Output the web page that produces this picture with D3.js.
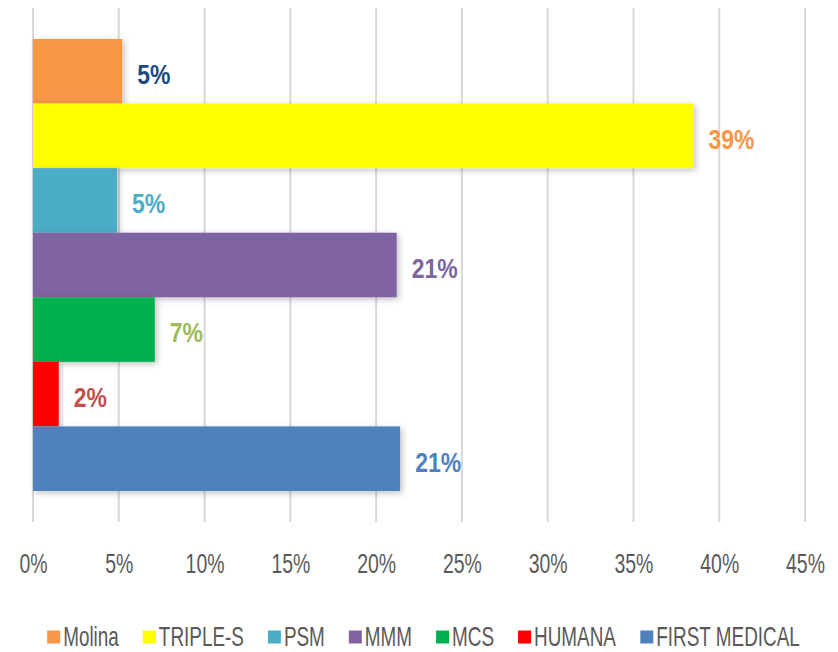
<!DOCTYPE html>
<html>
<head>
<meta charset="utf-8">
<script src="https://cdn.jsdelivr.net/npm/d3@7"></script>
<style>
  body { margin: 0; background: #fff; }
  svg text { font-family: "Liberation Sans Narrow", "Arial Narrow", "Liberation Sans", sans-serif; }
</style>
</head>
<body>
<div id="chart"></div>
<script>
// plans, top to bottom
const plans = ["Molina", "TRIPLE-S", "PSM", "MMM", "MCS", "HUMANA", "FIRST MEDICAL"];
const shares = [5.2, 38.5, 4.9, 21.2, 7.1, 1.5, 21.4];
const barColors = ["#F79646", "#FFFF00", "#4BACC6", "#8064A2", "#00B050", "#FF0000", "#4F81BD"];
const labelColors = ["#1F497D", "#F79646", "#4BACC6", "#8064A2", "#9BBB59", "#C0504D", "#4F81BD"];
const ticks = [0, 5, 10, 15, 20, 25, 30, 35, 40, 45];

const width = 838, height = 652;
// no narrow font installed, so squeeze the text sideways
const tickSqueeze = 0.72, legendSqueeze = 0.7;

const data = plans.map((p, i) => ({ name: p, value: shares[i], fill: barColors[i], label: labelColors[i] }));

const svg = d3.select("#chart").append("svg")
  .attr("width", width)
  .attr("height", height);

const defs = svg.append("defs");
const shadow = defs.append("filter").attr("id", "shadow")
  .attr("x", "-10%").attr("y", "-20%").attr("width", "130%").attr("height", "150%");
shadow.append("feDropShadow")
  .attr("dx", 2).attr("dy", 2).attr("stdDeviation", 3)
  .attr("flood-color", "#000").attr("flood-opacity", 0.25);

const x = d3.scaleLinear().domain([0, 45]).range([33, 805]);
const y = d3.scaleBand().domain(plans).range([8, 522]).paddingInner(0).paddingOuter(0.48);

// gridlines
svg.append("g")
  .selectAll("line")
  .data(ticks)
  .join("line")
  .attr("x1", d => x(d)).attr("x2", d => x(d))
  .attr("y1", 8).attr("y2", 522)
  .attr("stroke", "#d9d9d9")
  .attr("stroke-width", 2);

// x axis labels
const xAxis = d3.axisBottom(x).tickValues(ticks).tickFormat(d => d + "%").tickSize(0).tickPadding(0);
svg.append("g")
  .attr("transform", "translate(0,554)")
  .call(xAxis)
  .call(g => g.select(".domain").remove())
  .selectAll("text")
  .attr("fill", "#595959")
  .attr("transform", "scale(" + tickSqueeze + ",1)")
  .style("font-size", "27px");

// bars
svg.append("g")
  .selectAll("rect")
  .data(data)
  .join("rect")
  .attr("x", x(0))
  .attr("y", d => y(d.name))
  .attr("width", d => x(d.value) - x(0))
  .attr("height", y.bandwidth())
  .attr("fill", d => d.fill)
  .attr("filter", "url(#shadow)");

// value labels
svg.append("g")
  .selectAll("text")
  .data(data)
  .join("text")
  .attr("transform", d => "translate(" + (x(d.value) + 15) + "," + (y(d.name) + y.bandwidth() / 2 + 3) + ") scale(0.82,1)")
  .attr("dominant-baseline", "central")
  .attr("fill", d => d.label)
  .style("font-size", "28px")
  .style("font-weight", "bold")
  .text(d => Math.round(d.value) + "%");

// legend
const legend = svg.append("g").attr("transform", "translate(0,637)");
const items = legend.selectAll("g")
  .data(data)
  .join("g");
items.append("rect")
  .attr("width", 13).attr("height", 13)
  .attr("y", -6.5)
  .attr("fill", d => d.fill);
items.append("text")
  .attr("transform", "translate(16,0) scale(" + legendSqueeze + ",1)")
  .attr("dominant-baseline", "central")
  .attr("fill", "#595959")
  .style("font-size", "27px")
  .text(d => d.name);

let offsets = [], cur = 0;
items.each(function () {
  offsets.push(cur);
  cur += this.getBBox().width + 24;
});
const total = cur - 24;
const start = 423.5 - total / 2;
items.attr("transform", (d, i) => "translate(" + (start + offsets[i]) + ",0)");
</script>
</body>
</html>
